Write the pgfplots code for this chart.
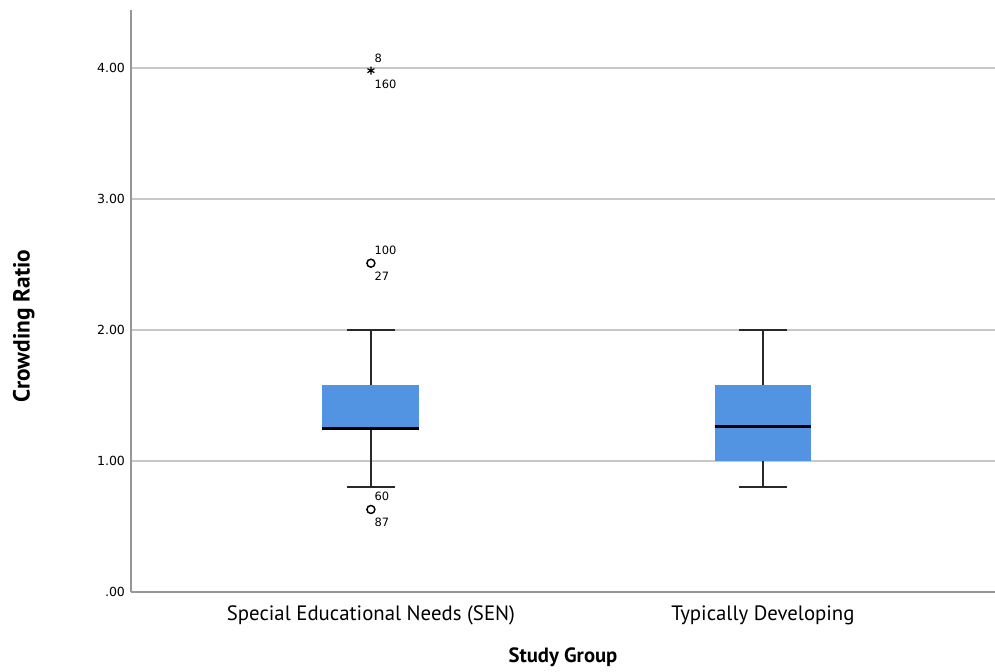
\documentclass[border=0pt]{standalone}
\usepackage{fontspec}
\setmainfont{PT Sans}
\newfontfamily\smallfont{DejaVu Sans}
\usepackage{pgfplots}
\pgfplotsset{compat=1.18}
\usepgfplotslibrary{statistics}

\definecolor{boxblue}{RGB}{83,148,226}
\definecolor{gridgray}{RGB}{200,200,200}
\definecolor{axisgray}{RGB}{150,150,150}
\definecolor{whisk}{RGB}{40,40,40}

\begin{document}
\begin{tikzpicture}[x=1pt,y=1pt]
\useasboundingbox (-98.25pt,-59.25pt) rectangle (648pt,444pt);
\begin{axis}[
  at={(0pt,0pt)}, anchor=south west,
  scale only axis,
  width=648pt, height=436.5pt,
  xmin=0.388, xmax=2.592,
  ymin=0, ymax=4.443,
  axis x line=bottom, axis y line=left,
  axis line style={axisgray, line width=1.1pt, -},
  xtick={1,2},
  xticklabels={Special Educational Needs (SEN), Typically Developing},
  ytick={0,1,2,3,4},
  yticklabels={.00,1.00,2.00,3.00,4.00},
  major tick length=0pt,
  ymajorgrids,
  grid style={gridgray, line width=1pt},
  xticklabel style={font=\fontsize{15.6}{17}\selectfont, yshift=-7pt},
  yticklabel style={font=\smallfont\fontsize{9.4}{11}\selectfont, xshift=-1pt},
  xlabel={\bfseries Study Group},
  ylabel={\bfseries Crowding Ratio},
  xlabel style={font=\fontsize{15.5}{17}\selectfont, yshift=-9.5pt},
  ylabel style={font=\fontsize{17.5}{19}\selectfont, yshift=40pt, xshift=-19pt},
  boxplot/draw direction=y,
  boxplot/box extend=0.247,
  boxplot/whisker extend=0.123,
  boxplot/every box/.style={fill=boxblue, draw=none},
  boxplot/every whisker/.style={whisk, line width=1.3pt},
  boxplot/every median/.style={black, line width=2.2pt},
  clip=false,
]
% Special Educational Needs group
\addplot+[boxplot prepared={
    draw position=1,
    lower whisker=0.8, lower quartile=1.25,
    median=1.25,
    upper quartile=1.583, upper whisker=2.0},
  mark=none, draw=none] coordinates {};
% Typically Developing group
\addplot+[boxplot prepared={
    draw position=2,
    lower whisker=0.8, lower quartile=1.0,
    median=1.26,
    upper quartile=1.583, upper whisker=2.0},
  mark=none, draw=none] coordinates {};

% extreme value (star) and outliers (circles)
\addplot[only marks, mark=asterisk, mark size=3pt, line width=0.9pt, black]
  coordinates {(1,3.98)};
\addplot[only marks, mark=o, mark size=3pt, line width=1.1pt, black]
  coordinates {(1,2.51) (1,0.63)};

% case labels above each point
\addplot[only marks, mark=none,
  point meta=explicit symbolic,
  nodes near coords,
  every node near coord/.append style={anchor=west, xshift=2.5pt, yshift=9.5pt,
    font=\smallfont\fontsize{8.6}{10}\selectfont, inner sep=0pt}]
  coordinates {(1,3.98) [8] (1,2.51) [100] (1,0.63) [60]};
% case labels below each point
\addplot[only marks, mark=none,
  point meta=explicit symbolic,
  nodes near coords,
  every node near coord/.append style={anchor=west, xshift=2.5pt, yshift=-10pt,
    font=\smallfont\fontsize{8.6}{10}\selectfont, inner sep=0pt}]
  coordinates {(1,3.98) [160] (1,2.51) [27] (1,0.63) [87]};
\end{axis}
\end{tikzpicture}
\end{document}
